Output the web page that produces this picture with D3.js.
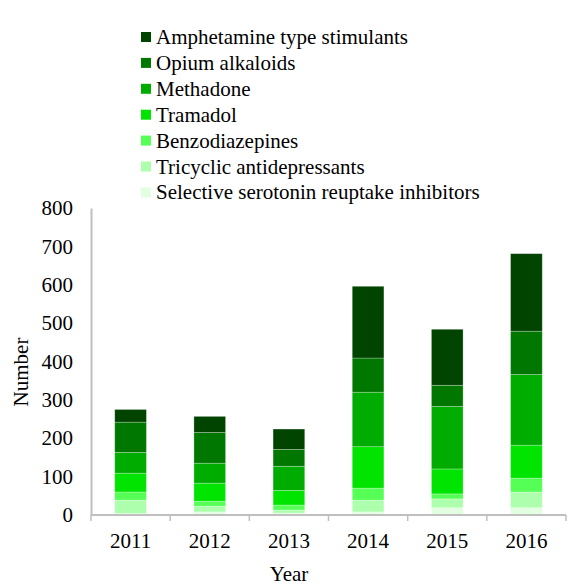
<!DOCTYPE html>
<html>
<head>
<meta charset="utf-8">
<script src="https://cdn.jsdelivr.net/npm/d3@7.9.0/dist/d3.min.js"></script>
<style>
  body { margin: 0; background: #fff; }
  text { font-family: "Liberation Serif", "Times New Roman", "DejaVu Serif", serif; fill: #000; }
</style>
</head>
<body>
<svg id="chart" width="576" height="585"></svg>
<script>
// data
const years = ['2011', '2012', '2013', '2014', '2015', '2016'];
const categories = [
  'Selective serotonin reuptake inhibitors',
  'Tricyclic antidepressants',
  'Benzodiazepines',
  'Tramadol',
  'Methadone',
  'Opium alkaloids',
  'Amphetamine type stimulants'
];
const colors = ['#e2ffe2', '#adffad', '#55ff55', '#00e400', '#00ac00', '#007800', '#004400'];
const ssri    = [4, 8, 5, 8, 19, 19];
const tca     = [35, 15, 8, 31, 23, 41];
const benzo   = [21, 13, 13, 31, 13, 36];
const tramadol = [49, 47, 38, 108, 65, 86];
const methadone = [54, 52, 63, 142, 163, 184];
const opium   = [79, 80, 44, 89, 55, 113];
const amph    = [33, 42, 53, 187, 146, 202];
const yTicks = [0, 100, 200, 300, 400, 500, 600, 700, 800];

const series = [ssri, tca, benzo, tramadol, methadone, opium, amph];
const rows = years.map((y, i) => {
  let r = { year: y };
  categories.forEach((c, k) => { r[c] = series[k][i]; });
  return r;
});

const svg = d3.select('#chart');
const fontSize = '21px';
const x = d3.scaleBand().domain(years).range([91, 566]).paddingInner(0.6).paddingOuter(0.3);
const y = d3.scaleLinear().domain([0, 800]).range([515, 208]);

const stack = d3.stack().keys(categories)(rows);

svg.append('g')
  .selectAll('g')
  .data(stack)
  .join('g')
  .attr('fill', (d, i) => colors[i])
  .selectAll('rect')
  .data(d => d)
  .join('rect')
  .attr('x', d => x(d.data.year))
  .attr('width', x.bandwidth())
  .attr('y', d => y(d[1]))
  .attr('height', d => y(d[0]) - y(d[1]))
  .attr('stroke', 'rgba(255,255,255,0.35)')
  .attr('stroke-width', 0.75);

// y axis: line only, labels on the left
const yAxis = svg.append('g').attr('transform', 'translate(91,0)')
  .call(d3.axisLeft(y).tickValues(yTicks).tickSize(0).tickPadding(18));
yAxis.select('.domain').attr('stroke', '#bfbfbf').attr('stroke-width', 2);
yAxis.selectAll('text').style('font-size', fontSize).style('font-family', '"Liberation Serif", serif');

// x axis with tick marks between categories
const xg = svg.append('g').attr('transform', 'translate(0,515)');
xg.append('line').attr('x1', 91).attr('x2', 566).attr('y1', 0).attr('y2', 0)
  .attr('stroke', '#bfbfbf').attr('stroke-width', 2);
d3.range(years.length + 1).forEach(i => {
  const tx = 91 + i * (475 / years.length);
  xg.append('line').attr('x1', tx).attr('x2', tx).attr('y1', 0).attr('y2', 6)
    .attr('stroke', '#bfbfbf').attr('stroke-width', 1.5);
});
xg.selectAll('text.lab')
  .data(years)
  .join('text')
  .attr('class', 'lab')
  .attr('x', d => x(d) + x.bandwidth() / 2)
  .attr('y', 33)
  .attr('text-anchor', 'middle')
  .style('font-size', fontSize)
  .text(d => d);

// axis titles
svg.append('text')
  .attr('x', 289).attr('y', 581)
  .attr('text-anchor', 'middle')
  .style('font-size', fontSize)
  .text('Year');
svg.append('text')
  .attr('transform', 'translate(28,372) rotate(-90)')
  .attr('text-anchor', 'middle')
  .style('font-size', fontSize)
  .text('Number');

// legend, top category first
const legendItems = categories.map((c, i) => ({ name: c, color: colors[i] })).reverse();
const legend = svg.append('g').attr('transform', 'translate(141,37)');
legendItems.forEach((d, i) => {
  const g = legend.append('g').attr('transform', `translate(0,${i * 25.9})`);
  g.append('rect').attr('x', 0).attr('y', -5).attr('width', 10).attr('height', 10).attr('fill', d.color);
  g.append('text').attr('x', 15).attr('y', 7).style('font-size', fontSize).text(d.name);
});
</script>
</body>
</html>
